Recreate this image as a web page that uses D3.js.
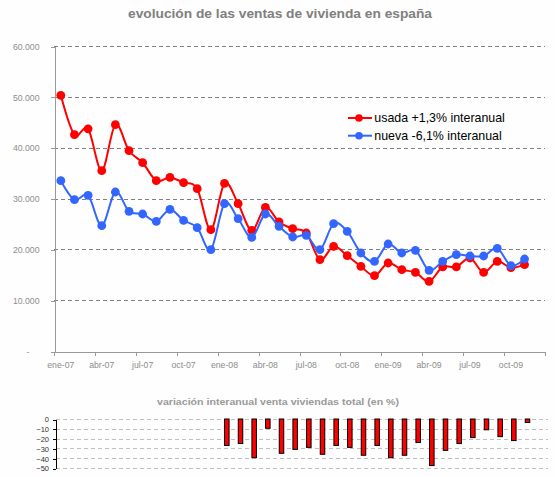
<!DOCTYPE html>
<html>
<head>
<meta charset="utf-8">
<script src="https://cdn.jsdelivr.net/npm/d3@7"></script>
<style>
  body { margin: 0; background: #fdfefd; }
  svg { display: block; font-family: "Liberation Sans", Arial, sans-serif; }
</style>
</head>
<body>
<div id="chart"></div>
<script>
// categories: one per month, ene-07 .. dic-09
var meses = ["ene-07","feb-07","mar-07","abr-07","may-07","jun-07","jul-07","ago-07","sep-07","oct-07","nov-07","dic-07",
             "ene-08","feb-08","mar-08","abr-08","may-08","jun-08","jul-08","ago-08","sep-08","oct-08","nov-08","dic-08",
             "ene-09","feb-09","mar-09","abr-09","may-09","jun-09","jul-09","ago-09","sep-09","oct-09","nov-09","dic-09"];

// ventas mensuales (ene-07 .. nov-09)
var usada = [50300, 42550, 43700, 35470, 44520, 39400, 37040, 33500, 34150, 33110, 31930, 23860,
             32970, 28980, 23730, 28250, 25380, 24060, 23210, 17960, 20580, 18750, 16640, 14810,
             17310, 15990, 15460, 13690, 16530, 16530, 18300, 15460, 17630, 16390, 16980];
var nueva = [33500, 29770, 30620, 24650, 31280, 27470, 26950, 25500, 27860, 25690, 24260, 19930,
             28980, 26030, 22350, 26950, 24510, 22430, 22740, 19930, 25040, 23530, 19280, 17630,
             21050, 19280, 19790, 15860, 17630, 18950, 18690, 18690, 20190, 16780, 18100];

// variacion interanual total en % (ene-08 .. nov-09)
var variacionMeses = meses.slice(12, 35);
var variacion = [-27, -25, -39.5, -9.5, -35, -31, -29, -36, -27, -29, -37, -27,
                 -39.5, -37, -24, -47.5, -32, -25, -19, -11, -18, -22, -3.5];

var yTicks = [0, 10000, 20000, 30000, 40000, 50000, 60000];
var yTicksVar = [0, -10, -20, -30, -40, -50];
var xLabels = meses.filter(function (d, i) { return i % 3 === 0; });

var seriesNames = ["usada +1,3% interanual", "nueva -6,1% interanual"];
var seriesColors = ["#ff0000", "#3366ff"];

var W = 555, H = 477;
var svg = d3.select("#chart").append("svg").attr("width", W).attr("height", H);
svg.append("rect").attr("width", W).attr("height", H).attr("fill", "#fdfefd");

var es = d3.formatLocale({decimal: ",", thousands: ".", grouping: [3], currency: ["", "€"]});
var fmt = es.format(",");

/* TITLE */
svg.append("text")
    .attr("x", 280).attr("y", 18.3)
    .attr("text-anchor", "middle")
    .attr("font-weight", "bold").attr("font-size", 12)
    .attr("fill", "#808080")
    .attr("textLength", 304).attr("lengthAdjust", "spacingAndGlyphs")
    .text("evolución de las ventas de vivienda en españa");

/* MAIN CHART */
var m = {left: 54, right: 545, top: 46, bottom: 351};
var x = d3.scaleBand().domain(meses).range([m.left, m.right]);
var y = d3.scaleLinear().domain([0, 60000]).range([m.bottom, m.top]);

// gridlines
svg.append("g").selectAll("line")
    .data(yTicks.filter(function (d) { return d > 0; }))
    .enter().append("line")
    .attr("x1", m.left).attr("x2", m.right)
    .attr("y1", function (d) { return Math.round(y(d)) + 0.5; })
    .attr("y2", function (d) { return Math.round(y(d)) + 0.5; })
    .attr("stroke", "#808080").attr("stroke-dasharray", "4,3")
    .attr("shape-rendering", "crispEdges");

var yaxis = svg.append("g")
    .attr("transform", "translate(" + (m.left + 0.5) + ",0.5)")
    .call(d3.axisLeft(y).tickValues(yTicks).tickSize(4).tickSizeOuter(0).tickPadding(11)
        .tickFormat(function (d) { return d === 0 ? "-" : fmt(d); }));
yaxis.selectAll("path, line").attr("stroke", "#999").attr("shape-rendering", "crispEdges");
yaxis.selectAll("text").attr("fill", "#8c8c8c").attr("font-size", 8.7)
    .attr("font-family", "Liberation Sans, Arial, sans-serif");
yaxis.selectAll("text").filter(function (d) { return d === 0; }).attr("dx", -10);

var xaxis = svg.append("g")
    .attr("transform", "translate(0," + (m.bottom + 0.5) + ")")
    .call(d3.axisBottom(x).tickValues(xLabels).tickSize(0).tickPadding(10));
xaxis.select(".domain").attr("stroke", "#999").attr("shape-rendering", "crispEdges");
xaxis.selectAll("text").attr("fill", "#8c8c8c").attr("font-size", 8.7)
    .attr("font-family", "Liberation Sans, Arial, sans-serif");

// tick marks on quarter boundaries
var boundaries = xLabels.map(function (d) { return x(d); }).concat([x.range()[1]]);
xaxis.selectAll(".qtick").data(boundaries).enter().append("line")
    .attr("class", "qtick")
    .attr("x1", function (d) { return Math.round(d) + 0.5; })
    .attr("x2", function (d) { return Math.round(d) + 0.5; })
    .attr("y1", 0).attr("y2", 4)
    .attr("stroke", "#999").attr("shape-rendering", "crispEdges");

// series
var line = d3.line()
    .x(function (d, i) { return x(meses[i]) + x.bandwidth() / 2; })
    .y(function (d) { return y(d); })
    .curve(d3.curveCatmullRom.alpha(0));

[usada, nueva].forEach(function (serie, k) {
    var sg = svg.append("g");
    sg.append("path")
        .datum(serie)
        .attr("d", line)
        .attr("fill", "none")
        .attr("stroke", seriesColors[k])
        .attr("stroke-width", 2);
    sg.selectAll("circle")
        .data(serie)
        .enter().append("circle")
        .attr("cx", function (d, i) { return x(meses[i]) + x.bandwidth() / 2; })
        .attr("cy", function (d) { return y(d); })
        .attr("r", 4.4)
        .attr("fill", seriesColors[k]);
});

// legend
var legend = svg.append("g").attr("transform", "translate(348,118)");
seriesNames.forEach(function (name, k) {
    var lg = legend.append("g").attr("transform", "translate(0," + (k * 17.7) + ")");
    lg.append("line").attr("x1", 0).attr("x2", 24).attr("y1", 0).attr("y2", 0)
        .attr("stroke", seriesColors[k]).attr("stroke-width", 2);
    lg.append("circle").attr("cx", 11).attr("cy", 0).attr("r", 3.8).attr("fill", seriesColors[k]);
    lg.append("text").attr("x", 26.3).attr("y", 4.3)
        .attr("font-size", 12.4).attr("fill", "#000")
        .text(name);
});

/* VARIATION CHART */
svg.append("text")
    .attr("x", 278).attr("y", 405)
    .attr("text-anchor", "middle")
    .attr("font-weight", "bold").attr("font-size", 9.5)
    .attr("fill", "#999")
    .attr("textLength", 242).attr("lengthAdjust", "spacingAndGlyphs")
    .text("variación interanual venta viviendas total (en %)");

var b = {left: 56, right: 548, top: 419, bottom: 468};
var xb = d3.scaleBand().domain(meses).range([b.left, b.right]);
var yb = d3.scaleLinear().domain([-50, 0]).range([b.bottom, b.top]);

svg.append("g").selectAll("line")
    .data(yTicksVar)
    .enter().append("line")
    .attr("x1", b.left).attr("x2", b.right)
    .attr("y1", function (d) { return Math.round(yb(d)) + 0.5; })
    .attr("y2", function (d) { return Math.round(yb(d)) + 0.5; })
    .attr("stroke", "#c0c0c0").attr("stroke-dasharray", "4,3")
    .attr("shape-rendering", "crispEdges");

var ybaxis = svg.append("g")
    .attr("transform", "translate(" + (b.left - 0.5) + ",0.5)")
    .call(d3.axisLeft(yb).tickValues(yTicksVar).tickSize(3).tickSizeOuter(0).tickPadding(3.5));
ybaxis.selectAll("path, line").attr("stroke", "#000").attr("shape-rendering", "crispEdges");
ybaxis.selectAll("text").attr("fill", "#333").attr("font-size", 7.5)
    .attr("font-family", "Liberation Sans, Arial, sans-serif");

var barW = 4.5;
svg.append("g").selectAll("rect")
    .data(variacion)
    .enter().append("rect")
    .attr("x", function (d, i) { return xb(variacionMeses[i]) + (xb.bandwidth() - barW) / 2; })
    .attr("y", yb(0))
    .attr("width", barW)
    .attr("height", function (d) { return yb(d) - yb(0); })
    .attr("fill", "#ff0000")
    .attr("stroke", "#000").attr("stroke-width", 1);
</script>
</body>
</html>
